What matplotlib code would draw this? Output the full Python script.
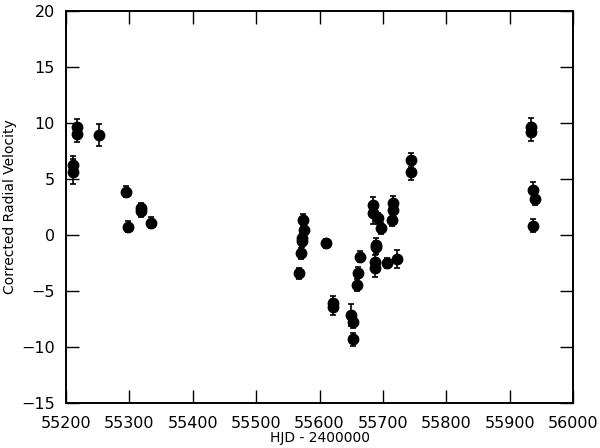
import matplotlib
matplotlib.use("Agg")
import matplotlib.pyplot as plt

hjd = [55216.9, 55216.9, 55211.5, 55211.5, 55252.0, 55294.0, 55298.0, 55319.0, 55319.0, 55334.0,
       55574.3, 55575.9, 55572.2, 55572.0, 55570.7, 55568.0, 55610.0, 55621.6, 55621.6,
       55663.7, 55661.0, 55658.5, 55649.5, 55653.5, 55653.0,
       55683.7, 55683.7, 55692.6, 55696.4, 55716.2, 55716.2, 55713.7,
       55689.0, 55689.0, 55687.4, 55687.4, 55706.8, 55721.6,
       55743.7, 55743.7, 55934.5, 55934.5, 55937.0, 55940.8, 55937.0]
rv = [9.67, 9.02, 6.25, 5.65, 8.93, 3.87, 0.74, 2.38, 2.14, 1.10,
      1.34, 0.45, -0.30, -0.55, -1.63, -3.42, -0.74, -6.10, -6.40,
      -1.94, -3.35, -4.46, -7.14, -7.81, -9.31,
      2.68, 1.94, 1.49, 0.60, 2.83, 2.23, 1.34,
      -0.89, -1.10, -2.38, -2.97, -2.47, -2.17,
      6.70, 5.65, 9.67, 9.22, 4.02, 3.21, 0.83]
err = [0.7, 0.7, 0.8, 1.1, 1.0, 0.5, 0.5, 0.5, 0.5, 0.5,
       0.55, 0.5, 0.5, 0.5, 0.5, 0.5, 0.4, 0.65, 0.7,
       0.5, 0.5, 0.5, 1.0, 0.45, 0.57,
       0.74, 1.0, 0.5, 0.5, 0.68, 0.6, 0.5,
       0.65, 0.6, 0.6, 0.75, 0.45, 0.8,
       0.65, 0.75, 0.8, 0.8, 0.7, 0.5, 0.6]

xticks = [55200, 55300, 55400, 55500, 55600, 55700, 55800, 55900, 56000]
yticks = [-15, -10, -5, 0, 5, 10, 15, 20]

fig = plt.figure(figsize=(6.0, 4.48), dpi=100)
ax = fig.add_axes([0.11, 0.1004, 0.845, 0.875])
ax.errorbar(hjd, rv, yerr=err, fmt='o', color='black', markersize=7.5,
            elinewidth=1.2, capsize=2, capthick=1.2)
ax.set_xlim(55200, 56000)
ax.set_ylim(-15, 20)
ax.set_xticks(xticks)
ax.set_yticks(yticks)
ax.tick_params(direction='in', length=9.4, width=1.0, top=True, right=True,
               labelsize=11.5)
ax.tick_params(axis='x', pad=9)
ax.tick_params(axis='y', pad=8)
for s in ax.spines.values():
    s.set_linewidth(1.4)
ax.set_xlabel('HJD - 2400000', fontsize=10, labelpad=0)
ax.set_ylabel('Corrected Radial Velocity', fontsize=10, labelpad=3)
fig.savefig('out.png', dpi=100)
